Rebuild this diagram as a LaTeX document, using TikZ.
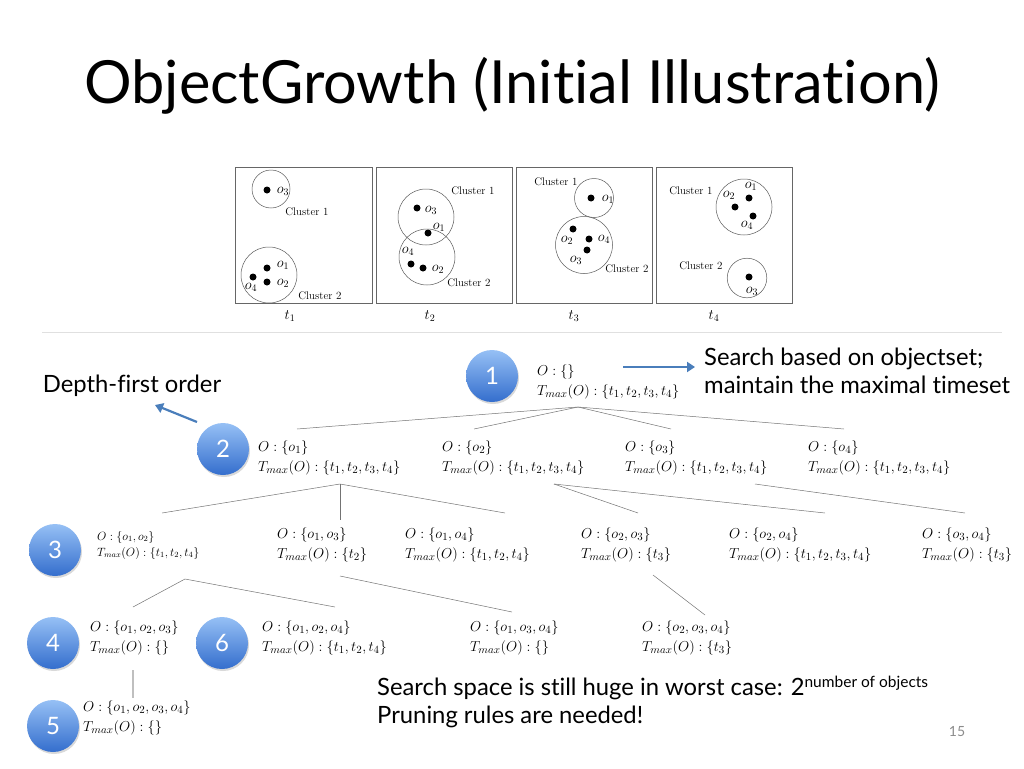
\documentclass[tikz,border=0pt]{standalone}
\usepackage{fontspec}
\usepackage{amssymb, amsmath}
\usepackage{tikz}
\usetikzlibrary{arrows.meta}
\usetikzlibrary{shadows}
\newfontfamily\slidefont{Lato}[Ligatures=NoCommon]
\definecolor{ballhi}{RGB}{150,192,245}
\definecolor{balllo}{RGB}{52,110,205}
\definecolor{arrowblue}{RGB}{74,126,187}
\tikzset{
  ball/.style={circle, minimum size=52pt, inner sep=0pt, top color=ballhi, bottom color=balllo,
    text=white, font=\slidefont\fontsize{24}{24}\selectfont,
    drop shadow={opacity=0.3, shadow xshift=1pt, shadow yshift=-2pt}},
  state/.style={anchor=west, align=left, inner sep=0pt, font=\fontsize{15.7}{20}\selectfont},
  smallstate/.style={font=\fontsize{12}{16}\selectfont},
  tline/.style={draw=black!55, line width=0.5pt},
  barrow/.style={draw=arrowblue, line width=2.2pt, -{Triangle[length=8pt, width=10pt]}},
  panel/.style={draw=black!60, line width=0.6pt},
  clus/.style={draw=black!65, line width=0.5pt},
  olab/.style={inner sep=0pt, font=\fontsize{14}{14}\selectfont},
  clab/.style={inner sep=0pt, font=\fontsize{11}{11}\selectfont},
  slide/.style={inner sep=0pt, font=\slidefont\fontsize{23.8}{28.5}\selectfont}
}
\begin{document}
\begin{tikzpicture}[x=1pt, y=-1pt]
    \useasboundingbox (0,0) rectangle (1024,768);
    \node  (title) at (512,86) {\slidefont\fontsize{59.5}{60}\selectfont ObjectGrowth (Initial Illustration)};
    % snapshots
    \draw [panel] (235,167) rectangle (372,303);
    \draw [panel] (376,167) rectangle (512,303);
    \draw [panel] (516,167) rectangle (652,303);
    \draw [panel] (656,167) rectangle (792,303);
    \node [olab] (t1) at (290,316) {$t_1$};
    \node [olab] (t2) at (430,316) {$t_2$};
    \node [olab] (t3) at (574,316) {$t_3$};
    \node [olab] (t4) at (714,316) {$t_4$};
    % t1
    \draw [clus] (271,189) circle (19);
    \draw [clus] (269,275) circle (28);
    \fill (267,190) circle (3.5);
    \fill (267,268) circle (3.5);
    \fill (267,282) circle (3.5);
    \fill (253,277) circle (3.5);
    \node [olab] (a3) at (283,191) {$o_3$};
    \node [olab] (a1) at (283,265) {$o_1$};
    \node [olab] (a2) at (283,283) {$o_2$};
    \node [olab] (a4) at (251,287) {$o_4$};
    \node [clab] (ac1) at (307,212) {Cluster 1};
    \node [clab] (ac2) at (320,296) {Cluster 2};
    % t2
    \draw [clus] (426,217) circle (28);
    \draw [clus] (427,257) circle (28);
    \fill (417,208) circle (3.5);
    \fill (428,233) circle (3.5);
    \fill (411,264) circle (3.5);
    \fill (423,268) circle (3.5);
    \node [olab] (b3) at (431,210) {$o_3$};
    \node [olab] (b1) at (439,227) {$o_1$};
    \node [olab] (b4) at (408,251) {$o_4$};
    \node [olab] (b2) at (438,269) {$o_2$};
    \node [clab] (bc1) at (473,191) {Cluster 1};
    \node [clab] (bc2) at (469,283) {Cluster 2};
    % t3
    \draw [clus] (594,198) circle (19.5);
    \draw [clus] (584,245) circle (28.5);
    \fill (591,198) circle (3.5);
    \fill (573,229) circle (3.5);
    \fill (589,239) circle (3.5);
    \fill (587,250) circle (3.5);
    \node [olab] (c1) at (608,199) {$o_1$};
    \node [olab] (c2) at (567,240) {$o_2$};
    \node [olab] (c4) at (604,239) {$o_4$};
    \node [olab] (c3) at (576,260) {$o_3$};
    \node [clab] (cc1) at (556,182) {Cluster 1};
    \node [clab] (cc2) at (627,269) {Cluster 2};
    % t4
    \draw [clus] (744,207) circle (28);
    \draw [clus] (747,278) circle (19.8);
    \fill (749,198) circle (3.5);
    \fill (735,207) circle (3.5);
    \fill (753,216) circle (3.5);
    \fill (749,277) circle (3.5);
    \node [olab] (d1) at (751,186) {$o_1$};
    \node [olab] (d2) at (729,195) {$o_2$};
    \node [olab] (d4) at (747,225) {$o_4$};
    \node [olab] (d3) at (752,291) {$o_3$};
    \node [clab] (dc1) at (691,191) {Cluster 1};
    \node [clab] (dc2) at (701,266) {Cluster 2};
    \draw [draw=black!12, line width=0.8pt] (42,332) -- (1002,332);
    % search tree
    \node [ball] (n1) at (492,376) {1};
    \node [ball] (n2) at (223,449) {2};
    \node [ball] (n3) at (55,550) {3};
    \node [ball] (n4) at (53,643) {4};
    \node [ball] (n5) at (53,726) {5};
    \node [ball] (n6) at (222,643) {6};
    \node [state] (s0) at (537,382) {$O:\{\}$\\$T_{max}(O):\{t_1,t_2,t_3,t_4\}$};
    \node [state] (s1) at (258,458) {$O:\{o_1\}$\\$T_{max}(O):\{t_1,t_2,t_3,t_4\}$};
    \node [state] (s2) at (442,458) {$O:\{o_2\}$\\$T_{max}(O):\{t_1,t_2,t_3,t_4\}$};
    \node [state] (s3) at (625,458) {$O:\{o_3\}$\\$T_{max}(O):\{t_1,t_2,t_3,t_4\}$};
    \node [state] (s4) at (808,458) {$O:\{o_4\}$\\$T_{max}(O):\{t_1,t_2,t_3,t_4\}$};
    \node [state, smallstate] (s12) at (97,545) {$O:\{o_1,o_2\}$\\$T_{max}(O):\{t_1,t_2,t_4\}$};
    \node [state] (s13) at (277,545) {$O:\{o_1,o_3\}$\\$T_{max}(O):\{t_2\}$};
    \node [state] (s14) at (405,545) {$O:\{o_1,o_4\}$\\$T_{max}(O):\{t_1,t_2,t_4\}$};
    \node [state] (s23) at (581,545) {$O:\{o_2,o_3\}$\\$T_{max}(O):\{t_3\}$};
    \node [state] (s24) at (729,545) {$O:\{o_2,o_4\}$\\$T_{max}(O):\{t_1,t_2,t_3,t_4\}$};
    \node [state] (s34) at (922,545) {$O:\{o_3,o_4\}$\\$T_{max}(O):\{t_3\}$};
    \node [state] (s123) at (90,638) {$O:\{o_1,o_2,o_3\}$\\$T_{max}(O):\{\}$};
    \node [state] (s124) at (262,638) {$O:\{o_1,o_2,o_4\}$\\$T_{max}(O):\{t_1,t_2,t_4\}$};
    \node [state] (s134) at (470,638) {$O:\{o_1,o_3,o_4\}$\\$T_{max}(O):\{\}$};
    \node [state] (s234) at (642,638) {$O:\{o_2,o_3,o_4\}$\\$T_{max}(O):\{t_3\}$};
    \node [state] (s1234) at (83,718) {$O:\{o_1,o_2,o_3,o_4\}$\\$T_{max}(O):\{\}$};
    % branches
    \coordinate (p0) at (578,407);
    \coordinate (q1) at (297,429);
    \coordinate (q2) at (474,429);
    \coordinate (q3) at (671,429);
    \coordinate (q4) at (844,429);
    \draw [tline] (p0) to (q1);
    \draw [tline] (p0) to (q2);
    \draw [tline] (p0) to (q3);
    \draw [tline] (p0) to (q4);
    \coordinate (p1) at (340,484);
    \coordinate (q12) at (162,513);
    \coordinate (q13) at (340,520);
    \coordinate (q14) at (505,513);
    \draw [tline] (p1) to (q12);
    \draw [tline] (p1) to (q13);
    \draw [tline] (p1) to (q14);
    \coordinate (p2) at (554,484);
    \coordinate (q23) at (638,513);
    \coordinate (q24) at (825,513);
    \draw [tline] (p2) to (q23);
    \draw [tline] (p2) to (q24);
    \coordinate (p3) at (755,484);
    \coordinate (q34) at (965,513);
    \draw [tline] (p3) to (q34);
    \coordinate (p12) at (185,579);
    \coordinate (q123) at (133,607);
    \coordinate (q124) at (335,607);
    \draw [tline] (p12) to (q123);
    \draw [tline] (p12) to (q124);
    \coordinate (p13) at (340,576);
    \coordinate (q134) at (512,612);
    \draw [tline] (p13) to (q134);
    \coordinate (p23) at (653,575);
    \coordinate (q234) at (705,615);
    \draw [tline] (p23) to (q234);
    \coordinate (p123) at (133,670);
    \coordinate (q1234) at (133,698);
    \draw [draw=black!25, line width=1.4pt] (p123) to (q1234);
    % notes
    \node [slide, anchor=west, align=left] (note1) at (704,371) {Search based on objectset;\\maintain the maximal timeset};
    \coordinate (r0) at (623,367);
    \coordinate (r1) at (695,367);
    \draw [barrow] (r0) to (r1);
    \node [slide] (note2) at (132,386) {Depth-first order};
    \coordinate (r2) at (197,422);
    \coordinate (r3) at (155,405);
    \draw [barrow] (r2) to (r3);
    \node [slide, anchor=west, align=left] (note3) at (377,702) {Search space is still huge in worst case: 2\raisebox{7.5pt}{\fontsize{15.5}{15.5}\selectfont number of objects}\\Pruning rules are needed!};
    \node [inner sep=0pt, text=black!45, font=\slidefont\fontsize{14}{14}\selectfont] (page) at (957,732) {15};
\end{tikzpicture}
\end{document}
